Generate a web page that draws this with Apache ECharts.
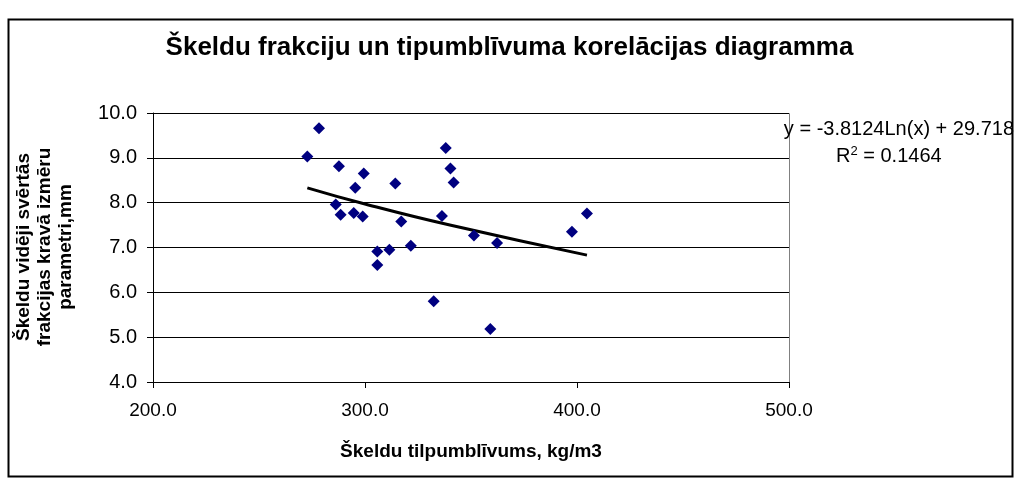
<!DOCTYPE html>
<html>
<head>
<meta charset="utf-8">
<script src="https://cdn.jsdelivr.net/npm/echarts@6/dist/echarts.min.js"></script>
<style>
  html, body { margin: 0; padding: 0; background: #fff; }
  #chart { width: 1019px; height: 480px; }
</style>
</head>
<body>
<div id="chart"></div>
<script>
// tilpumblivums (kg/m3) un izmēru parametri (mm), nolasīti no attēla
var density = [278.3, 272.8, 287.7, 299.4, 295.4, 314.3, 286.2, 288.5, 294.7, 298.9,
               317.1, 305.8, 311.5, 305.8, 321.6, 338.1, 340.3, 341.8, 336.3, 351.4,
               362.3, 332.4, 359.1, 397.6, 404.7];
var sizeMm = [9.66, 9.03, 8.81, 8.65, 8.33, 8.43, 7.96, 7.73, 7.77, 7.69,
              7.58, 6.91, 6.95, 6.61, 7.04, 9.22, 8.76, 8.45, 7.70, 7.27,
              7.10, 5.80, 5.18, 7.35, 7.76];
// trenda līnija (log)
var trendX = [272.8, 300, 340, 404.7];
var trendY = [8.33, 7.97, 7.50, 6.83];

var xTicks = [200, 300, 400, 500];
var yTicks = [4, 5, 6, 7, 8, 9, 10];

var points = [];
for (var i = 0; i < density.length; i++) points.push([density[i], sizeMm[i]]);
var trend = [];
for (var j = 0; j < trendX.length; j++) trend.push([trendX[j], trendY[j]]);

var font = '"Liberation Sans", Arial, sans-serif';
var myChart = echarts.init(document.getElementById('chart'));

var option = {
    animation: false,
    title: {
        text: 'Škeldu frakciju un tipumblīvuma korelācijas diagramma',
        left: 'center',
        top: 30,
        textStyle: { fontFamily: font, fontSize: 26, fontWeight: 'bold', color: '#000' }
    },
    grid: { left: 153, right: 230, top: 113, bottom: 98 },
    xAxis: {
        type: 'value',
        min: xTicks[0],
        max: xTicks[xTicks.length - 1],
        interval: 100,
        name: 'Škeldu tilpumblīvums, kg/m3',
        nameLocation: 'middle',
        nameGap: 60,
        nameTextStyle: { fontFamily: font, fontSize: 19, fontWeight: 'bold', color: '#000' },
        axisLine: { show: true, lineStyle: { color: '#000', width: 1 } },
        axisTick: { show: true, length: 6, lineStyle: { color: '#000' } },
        axisLabel: {
            fontFamily: font, fontSize: 19, color: '#000', margin: 19,
            formatter: function (v) { return v.toFixed(1); }
        },
        splitLine: { show: false }
    },
    yAxis: {
        type: 'value',
        min: yTicks[0],
        max: yTicks[yTicks.length - 1],
        interval: 1,
        axisLine: { show: true, lineStyle: { color: '#000', width: 1 } },
        axisTick: { show: true, length: 6, lineStyle: { color: '#000' } },
        axisLabel: {
            fontFamily: font, fontSize: 20, color: '#000', margin: 16,
            formatter: function (v) { return v.toFixed(1); }
        },
        splitLine: { show: true, lineStyle: { color: '#000', width: 1 } }
    },
    graphic: [
        {
            type: 'rect',
            shape: { x: 8.5, y: 19.5, width: 1004, height: 457 },
            style: { fill: 'none', stroke: '#000', lineWidth: 2 },
            silent: true
        },
        {
            type: 'rect',
            shape: { x: 153.5, y: 113.5, width: 636, height: 269 },
            style: { fill: 'none', stroke: '#808080', lineWidth: 1 },
            silent: true
        },
        {
            type: 'text',
            x: 45,
            y: 247,
            rotation: Math.PI / 2,
            style: {
                text: 'Škeldu vidēji svērtās\nfrakcijas kravā izmēru\nparametri,mm',
                fontFamily: font, fontSize: 19, fontWeight: 'bold', fill: '#000',
                align: 'center', verticalAlign: 'middle', lineHeight: 21
            }
        },
        {
            type: 'text',
            right: 5,
            top: 119,
            style: {
                text: 'y = -3.8124Ln(x) + 29.718',
                fontFamily: font, fontSize: 20, fill: '#000'
            }
        },
        {
            type: 'text',
            left: 836,
            top: 145,
            style: {
                text: 'R{s|2} = 0.1464',
                fontFamily: font, fontSize: 20, fill: '#000',
                rich: { s: { fontFamily: font, fontSize: 13, verticalAlign: 'top', padding: [0, 0, 9, 0] } }
            }
        }
    ],
    series: [
        {
            type: 'line',
            data: trend,
            smooth: true,
            symbol: 'none',
            lineStyle: { color: '#000', width: 3 },
            z: 3
        },
        {
            type: 'scatter',
            data: points,
            symbol: 'diamond',
            symbolSize: 12,
            itemStyle: { color: '#000080', opacity: 1 },
            z: 4
        }
    ]
};

myChart.setOption(option);
</script>
</body>
</html>
